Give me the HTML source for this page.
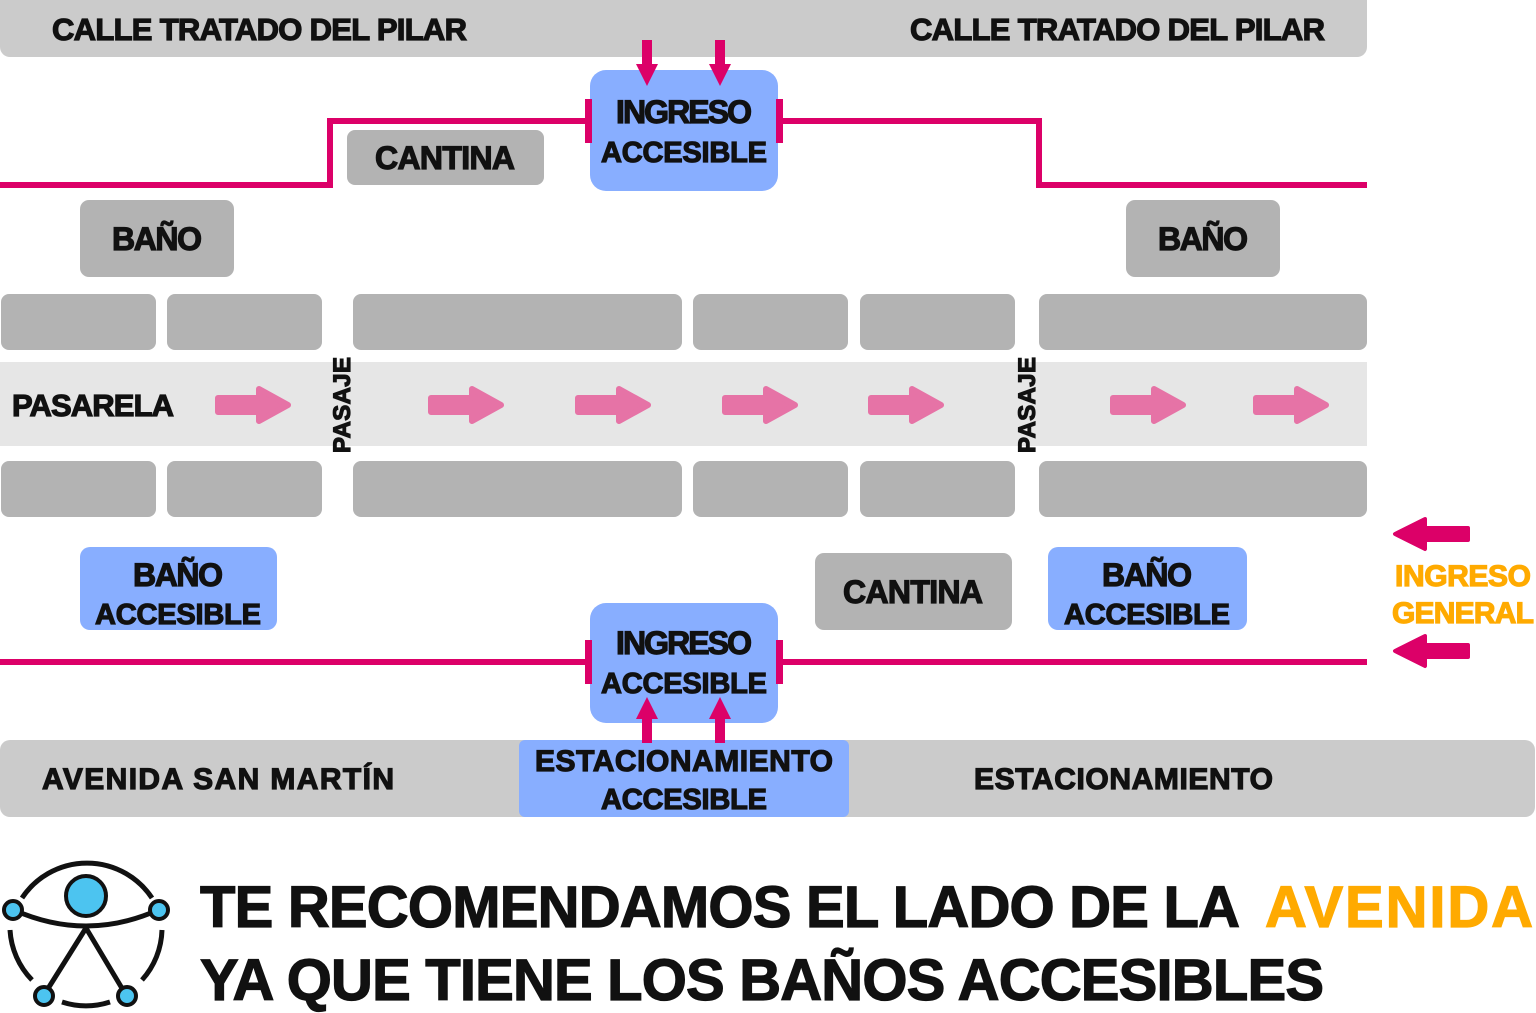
<!DOCTYPE html>
<html><head><meta charset="utf-8"><style>
html,body{margin:0;padding:0;background:#fff;width:1536px;height:1013px;overflow:hidden}
svg text{font-family:"Liberation Sans",sans-serif;font-weight:bold;stroke:currentColor;stroke-width:1.2px}
</style></head><body>
<svg width="1536" height="1013" viewBox="0 0 1536 1013" xmlns="http://www.w3.org/2000/svg">
<defs>
<g id="ar"><path d="M0,-7 H41 V-16 L70,0 L41,16 V7 H0 Z" fill="#e673a6" stroke="#e673a6" stroke-width="6" stroke-linejoin="round"/></g>
<g id="gl"><path d="M73,-6 H30 V-15 L0,0 L30,15 V6 H73 Z" fill="#dc0068" stroke="#dc0068" stroke-width="4" stroke-linejoin="round"/></g>
<g id="dn"><path d="M-5,0 V24 H-11 L0,46 L11,24 H5 V0 Z" fill="#dc0068"/></g>
</defs>
<rect x="0" y="-10" width="1367" height="67" rx="10" fill="#cbcbcb"/>
<g fill="#111" color="#111" font-size="31">
<text x="52" y="40" textLength="415">CALLE TRATADO DEL PILAR</text>
<text x="910" y="40" textLength="415">CALLE TRATADO DEL PILAR</text>
</g>
<path d="M0,185 H330 V121 H590 M778,121 H1039 V185 H1367" fill="none" stroke="#dc0068" stroke-width="6"/>
<rect x="590" y="70" width="188" height="121" rx="16" fill="#88aeff"/>
<rect x="585" y="99" width="7" height="44" fill="#dc0068"/>
<rect x="776" y="99" width="7" height="44" fill="#dc0068"/>
<use href="#dn" x="647" y="40"/><use href="#dn" x="720" y="40"/>
<g fill="#111" color="#111" font-size="32" text-anchor="middle">
<text x="684" y="123" textLength="136">INGRESO</text>
<text x="684" y="162" font-size="29" textLength="166">ACCESIBLE</text>
</g>
<g fill="#b3b3b3">
<rect x="347" y="130" width="197" height="55" rx="8"/>
<rect x="80" y="200" width="154" height="77" rx="9"/>
<rect x="1126" y="200" width="154" height="77" rx="9"/>
<rect x="1" y="294" width="155" height="56" rx="8"/><rect x="167" y="294" width="155" height="56" rx="8"/>
<rect x="353" y="294" width="329" height="56" rx="8"/><rect x="693" y="294" width="155" height="56" rx="8"/>
<rect x="860" y="294" width="155" height="56" rx="8"/><rect x="1039" y="294" width="328" height="56" rx="8"/>
<rect x="1" y="461" width="155" height="56" rx="8"/><rect x="167" y="461" width="155" height="56" rx="8"/>
<rect x="353" y="461" width="329" height="56" rx="8"/><rect x="693" y="461" width="155" height="56" rx="8"/>
<rect x="860" y="461" width="155" height="56" rx="8"/><rect x="1039" y="461" width="328" height="56" rx="8"/>
<rect x="815" y="553" width="197" height="77" rx="9"/>
</g>
<rect x="0" y="362" width="1367" height="84" fill="#e6e6e6"/>
<g fill="#111" color="#111" font-size="32" text-anchor="middle">
<text x="445" y="169" textLength="140">CANTINA</text>
<text x="157" y="250" textLength="90">BAÑO</text>
<text x="1203" y="250" textLength="90">BAÑO</text>
<text x="913" y="603" textLength="140">CANTINA</text>
<text x="93" y="416" font-size="31" textLength="162">PASARELA</text>
<text transform="translate(350,405) rotate(-90)" font-size="24" textLength="96">PASAJE</text>
<text transform="translate(1035,405) rotate(-90)" font-size="24" textLength="96">PASAJE</text>
</g>
<use href="#ar" x="218" y="405"/><use href="#ar" x="431" y="405"/><use href="#ar" x="578" y="405"/>
<use href="#ar" x="725" y="405"/><use href="#ar" x="871" y="405"/><use href="#ar" x="1113" y="405"/><use href="#ar" x="1256" y="405"/>
<g fill="#88aeff">
<rect x="80" y="547" width="197" height="83" rx="10"/>
<rect x="1048" y="547" width="199" height="83" rx="10"/>
</g>
<g fill="#111" color="#111" font-size="32" text-anchor="middle">
<text x="178" y="586" textLength="90">BAÑO</text><text x="178" y="624" font-size="29" textLength="166">ACCESIBLE</text>
<text x="1147" y="586" textLength="90">BAÑO</text><text x="1147" y="624" font-size="29" textLength="166">ACCESIBLE</text>
</g>
<path d="M0,662 H590 M778,662 H1367" stroke="#dc0068" stroke-width="6"/>
<rect x="590" y="603" width="188" height="120" rx="16" fill="#88aeff"/>
<rect x="585" y="640" width="7" height="44" fill="#dc0068"/>
<rect x="776" y="640" width="7" height="44" fill="#dc0068"/>
<g fill="#111" color="#111" font-size="32" text-anchor="middle">
<text x="684" y="654" textLength="136">INGRESO</text>
<text x="684" y="693" font-size="29" textLength="166">ACCESIBLE</text>
</g>
<rect x="0" y="740" width="1535" height="77" rx="10" fill="#cbcbcb"/>
<rect x="519" y="740" width="330" height="77" rx="6" fill="#88aeff"/>
<use href="#dn" transform="translate(647,743) scale(1,-1)"/>
<use href="#dn" transform="translate(720,743) scale(1,-1)"/>
<g fill="#111" color="#111" font-size="30">
<text x="42" y="789" textLength="352">AVENIDA SAN MARTÍN</text>
<text x="974" y="789" textLength="299">ESTACIONAMIENTO</text>
<text x="684" y="771" text-anchor="middle" textLength="298">ESTACIONAMIENTO</text>
<text x="684" y="809" text-anchor="middle" font-size="29" textLength="166">ACCESIBLE</text>
</g>
<use href="#gl" x="1395" y="534"/><use href="#gl" x="1395" y="651"/>
<g fill="#ffaa00" color="#ffaa00" font-size="30" text-anchor="middle">
<text x="1463" y="586" textLength="136">INGRESO</text>
<text x="1463" y="623" textLength="142">GENERAL</text>
</g>
<g fill="none" stroke="#111" stroke-width="5">
<path d="M22,898 A78,78 0 0 1 152,898"/>
<path d="M10,930 A78,78 0 0 0 32,980"/>
<path d="M162,930 A78,78 0 0 1 142,980"/>
<path d="M62,1002 A78,78 0 0 0 110,1002"/>
<path d="M14,910 Q86,942 158,910"/>
<path d="M86,928 L44,995 M86,928 L126,995"/>
</g>
<g fill="#4cc4f0" stroke="#111" stroke-width="4">
<circle cx="86" cy="896" r="20"/>
<circle cx="13" cy="910" r="9"/><circle cx="159" cy="910" r="9"/>
<circle cx="44" cy="996" r="9"/><circle cx="127" cy="996" r="9"/>
</g>
<g fill="#111" color="#111" font-size="58" stroke-width="2">
<text x="200" y="927" textLength="1040">TE RECOMENDAMOS EL LADO DE LA</text>
<text x="1265" y="927" fill="#ffaa00" color="#ffaa00" textLength="268">AVENIDA</text>
<text x="200" y="1000" textLength="1124">YA QUE TIENE LOS BAÑOS ACCESIBLES</text>
</g>
</svg>
</body></html>
